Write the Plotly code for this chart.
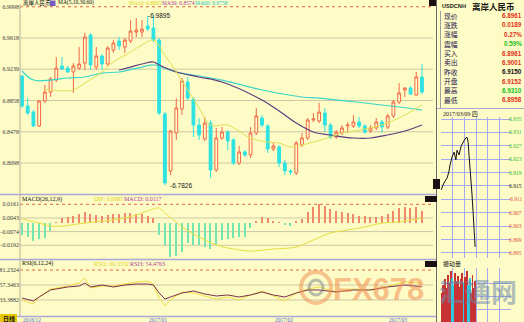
import plotly.graph_objects as go

W, H = 524, 322
BG = "#FDFBC6"
SERIF = "Liberation Serif, Noto Sans CJK SC"
SANS = "Liberation Sans, Noto Sans CJK SC"
CJK = "Noto Sans CJK SC"

# ---------------- data: daily candles (USDCNH) ----------------
day_idx = list(range(71))
opens = [6.9156, 6.8791, 6.8718, 6.8548, 6.8852, 6.8961, 6.9107, 6.9278, 6.9253, 6.9205,
         6.9253, 6.9314, 6.9655, 6.9265, 6.9399, 6.9302, 6.9472, 6.9582, 6.9509, 6.9582,
         6.9691, 6.9691, 6.9764, 6.9740, 6.9594, 6.8694, 6.8001, 6.8463, 6.8755, 6.9083,
         6.8876, 6.8560, 6.8390, 6.8584, 6.8013, 6.8402, 6.8475, 6.8378, 6.8098, 6.8232,
         6.8195, 6.8463, 6.8645, 6.8548, 6.8268, 6.8293, 6.8098, 6.8001, 6.7976, 6.8317,
         6.8402, 6.8621, 6.8609, 6.8706, 6.8560, 6.8414, 6.8463, 6.8550, 6.8548, 6.8597,
         6.8548, 6.8487, 6.8524, 6.8597, 6.8536, 6.8670, 6.8840, 6.8986, 6.9010, 6.8925,
         6.9144]
highs = [6.9168, 6.8888, 6.8742, 6.8864, 6.9047, 6.9144, 6.9387, 6.9387, 6.9278, 6.9314,
         6.9509, 6.9679, 6.9679, 6.9509, 6.9423, 6.9521, 6.9594, 6.9630, 6.9618, 6.9837,
         6.9861, 6.9837, 6.9886, 6.9895, 6.9618, 6.8718, 6.8499, 6.8888, 6.9132, 6.9144,
         6.8901, 6.8645, 6.8657, 6.8621, 6.8524, 6.8536, 6.8499, 6.8402, 6.8305, 6.8256,
         6.8536, 6.8767, 6.8682, 6.8572, 6.8341, 6.8317, 6.8135, 6.8025, 6.8366, 6.8463,
         6.8645, 6.8706, 6.8828, 6.8767, 6.8584, 6.8499, 6.8560, 6.8597, 6.8682, 6.8657,
         6.8572, 6.8560, 6.8645, 6.8621, 6.8694, 6.8864, 6.9071, 6.9022, 6.9034, 6.9205,
         6.9302]
lows = [6.8767, 6.8682, 6.8536, 6.8536, 6.8828, 6.8901, 6.9083, 6.9229, 6.9192, 6.8949,
        6.9229, 6.9229, 6.9229, 6.9229, 6.9229, 6.9278, 6.9436, 6.9472, 6.9436, 6.9557,
        6.9630, 6.9630, 6.9703, 6.9569, 6.8682, 6.7826, 6.7952, 6.8378, 6.8682, 6.8864,
        6.8414, 6.8378, 6.8366, 6.7916, 6.7989, 6.8378, 6.8256, 6.8074, 6.8074, 6.8171,
        6.8159, 6.8439, 6.8536, 6.8220, 6.8244, 6.8050, 6.7952, 6.7952, 6.7952, 6.8293,
        6.8378, 6.8597, 6.8584, 6.8475, 6.8390, 6.8390, 6.8439, 6.8463, 6.8524, 6.8524,
        6.8451, 6.8463, 6.8499, 6.8463, 6.8511, 6.8645, 6.8815, 6.8901, 6.8925, 6.8913,
        6.8937]
closes = [6.8791, 6.8706, 6.8548, 6.8852, 6.8961, 6.9120, 6.9253, 6.9241, 6.9205, 6.9278,
          6.9302, 6.9630, 6.9290, 6.9399, 6.9302, 6.9496, 6.9557, 6.9521, 6.9594, 6.9703,
          6.9715, 6.9727, 6.9727, 6.9594, 6.8706, 6.7855, 6.8487, 6.8767, 6.9095, 6.8888,
          6.8560, 6.8439, 6.8584, 6.8013, 6.8402, 6.8475, 6.8366, 6.8098, 6.8232, 6.8195,
          6.8463, 6.8670, 6.8560, 6.8268, 6.8305, 6.8098, 6.8001, 6.7989, 6.8341, 6.8402,
          6.8621, 6.8633, 6.8718, 6.8560, 6.8414, 6.8475, 6.8524, 6.8560, 6.8597, 6.8548,
          6.8475, 6.8524, 6.8597, 6.8536, 6.8670, 6.8840, 6.8949, 6.9010, 6.8937, 6.9144,
          6.8961]

# moving averages
ma10_idx = [4, 5, 9, 11, 14, 16, 19, 21, 23, 25, 27, 29, 31, 33, 36, 40, 43, 45, 47, 49, 51, 54, 56, 59, 63, 67, 70]
ma10_val = [6.8998, 6.8986, 6.8986, 6.9071, 6.9205, 6.9326, 6.9448, 6.9533, 6.9594, 6.9411, 6.9205, 6.8986,
            6.8767, 6.8560, 6.8560, 6.8402, 6.8353, 6.8341, 6.8293, 6.8317, 6.8353, 6.8414, 6.8463, 6.8499,
            6.8560, 6.8682, 6.8803]
ma30_idx = [17, 19, 21, 23, 24, 27, 31, 35, 42, 45, 48, 51, 54, 58, 61, 64, 67, 70]
ma30_val = [6.9229, 6.9265, 6.9302, 6.9326, 6.9290, 6.9205, 6.9144, 6.9083, 6.8864, 6.8730, 6.8584,
            6.8475, 6.8439, 6.8402, 6.8402, 6.8439, 6.8487, 6.8560]
ma60_idx = [0, 2, 5, 8, 11, 14, 17, 21, 23, 27, 31, 35, 42, 49, 52, 60, 66, 70]
ma60_val = [6.9217, 6.9107, 6.9107, 6.9132, 6.9144, 6.9192, 6.9205, 6.9265, 6.9290, 6.9205, 6.9156,
            6.9107, 6.8986, 6.8901, 6.8888, 6.8828, 6.8779, 6.8742]
price_ticks = [6.9998, 6.9618, 6.9239, 6.8858, 6.8478, 6.8098]

# MACD
macd_hist = [-0.0103, -0.0121, -0.0155, -0.0138, -0.0129, -0.0069, 0.0005, 0.0043, 0.0052, 0.0060,
             0.0077, 0.0095, 0.0077, 0.0069, 0.0060, 0.0069, 0.0077, 0.0077, 0.0086, 0.0086,
             0.0077, 0.0077, 0.0060, 0.0043, -0.0103, -0.0189, -0.0293, -0.0284, -0.0250, -0.0172,
             -0.0189, -0.0189, -0.0207, -0.0224, -0.0189, -0.0146, -0.0138, -0.0129, -0.0121, -0.0121,
             -0.0043, 0.0017, 0.0052, 0.0043, 0.0009, 0.0003, -0.0017, -0.0026, 0.0009, 0.0034,
             0.0095, 0.0138, 0.0164, 0.0146, 0.0121, 0.0103, 0.0095, 0.0086, 0.0077, 0.0060,
             0.0060, 0.0052, 0.0052, 0.0060, 0.0077, 0.0103, 0.0129, 0.0138, 0.0129, 0.0138,
             0.0103]
dif_idx = [0, 3, 5, 7, 11, 17, 20, 23, 24, 25, 27, 28, 31, 34, 37, 40, 44, 48, 51, 54, 57, 60, 63, 66, 70]
dif_val = [0.0034, 0.0, -0.0026, -0.0026, 0.0, 0.0034, 0.0069, 0.0121, 0.0129, 0.0086, 0.0009, -0.0034,
           -0.0121, -0.0189, -0.0224, -0.0241, -0.0224, -0.0207, -0.0146, -0.0086, -0.0060, -0.0034,
           0.0, 0.0009, 0.0043]
macd_ticks = [0.0161, 0.0043, -0.0074, -0.0192]

# RSI
rsi_idx = [0, 2, 3, 5, 8, 10, 11, 12, 14, 16, 18, 20, 22, 23, 24, 25, 26, 28, 30, 32, 34, 36, 38, 40,
           42, 44, 46, 48, 50, 52, 55, 58, 61, 64, 67, 70]
rsi3_val = [36.6, 31.8, 38.2, 49.4, 54.2, 55.7, 60.5, 54.2, 57.3, 54.2, 57.3, 58.9, 58.9, 57.3, 44.6, 35.0,
            38.2, 44.6, 47.8, 43.0, 39.8, 41.4, 38.2, 41.4, 46.2, 41.4, 38.2, 44.6, 49.4, 49.4, 46.2, 49.4,
            49.4, 54.2, 57.3, 54.5]
rsi1_val = [33.4, 27.0, 38.2, 51.0, 55.7, 60.5, 68.5, 52.6, 55.7, 55.7, 58.9, 62.1, 63.7, 58.9, 36.6, 23.8,
            33.4, 46.2, 44.6, 39.8, 35.0, 38.2, 33.4, 41.4, 47.8, 39.8, 31.8, 44.6, 51.0, 54.2, 46.2, 51.0,
            49.4, 55.7, 62.1, 60.4]
rsi_ticks = [81.2324, 57.3463, 33.3882]

# intraday (2017/03/09)
intra_h = [0.0, 1.0, 2.1, 2.7, 3.1, 3.8, 4.5, 5.1, 5.5, 6.2, 6.9, 7.5, 8.2, 8.9, 9.3, 9.6, 9.9, 10.6, 11.0, 11.3, 11.7]
intra_p = [6.9138, 6.9159, 6.9174, 6.9192, 6.9213, 6.9237, 6.9251, 6.9228, 6.9257, 6.9243, 6.9269, 6.9278,
           6.9290, 6.9296, 6.9281, 6.9243, 6.9198, 6.9129, 6.9072, 6.9034, 6.8968]
intra_ticks = [6.935, 6.931, 6.927, 6.923, 6.919, 6.915, 6.911, 6.907, 6.903, 6.899, 6.895]
vol_h = [0.3, 0.8, 1.3, 1.8, 2.3, 2.8, 3.3, 3.8, 4.3, 4.8, 5.3, 5.8, 6.3, 6.8, 7.3, 7.8, 8.3, 8.8, 9.3, 9.8,
         10.3, 10.8, 11.3, 11.8]
vol_v = [30, 38, 44, 35, 48, 40, 52, 45, 38, 50, 42, 47, 36, 44, 50, 40, 46, 52, 38, 45, 30, 48, 35, 42]
vol_up = [1, 1, 1, 1, 1, 1, 1, 0, 0, 1, 1, 1, 1, 1, 1, 0, 1, 1, 0, 0, 1, 1, 1, 1]

info_labels = ["现价", "涨跌", "涨幅", "震幅", "买入", "卖出", "昨收", "开盘", "最高", "最低"]
info_values = ["6.8961", "0.0189", "0.27%", "0.59%", "6.8961", "6.9001", "6.9150", "6.9152", "6.9310", "6.8958"]
info_colors = ["#E03020", "#E03020", "#E03020", "#20C020", "#E03020", "#E03020", "#101010", "#E03020", "#20C020", "#E03020"]


def fx(x):
    return x / W


def fy(y):
    return 1 - y / H


fig = go.Figure()

# ---- main panel ----
fig.add_trace(go.Candlestick(
    x=day_idx, open=opens, high=highs, low=lows, close=closes,
    increasing=dict(line=dict(color="#F26A4A", width=1), fillcolor=BG),
    decreasing=dict(line=dict(color="#2FE2E2", width=1), fillcolor="#2FE2E2"),
    whiskerwidth=0, xaxis="x", yaxis="y", showlegend=False, hoverinfo="skip"))
fig.add_trace(go.Scatter(x=ma60_idx, y=ma60_val, mode="lines", xaxis="x", yaxis="y",
                         line=dict(color="#3CD6C8", width=1.2, shape="spline"), showlegend=False))
fig.add_trace(go.Scatter(x=ma30_idx, y=ma30_val, mode="lines", xaxis="x", yaxis="y",
                         line=dict(color="#5E3C7E", width=1.2, shape="spline"), showlegend=False))
fig.add_trace(go.Scatter(x=ma10_idx, y=ma10_val, mode="lines", xaxis="x", yaxis="y",
                         line=dict(color="#E2E050", width=1, shape="spline"), showlegend=False))

# ---- MACD ----
fig.add_trace(go.Bar(x=day_idx, y=macd_hist, width=0.22, xaxis="x2", yaxis="y2",
                     marker=dict(color=["#F0886A" if v >= 0 else "#74E4B2" for v in macd_hist], line=dict(width=0)),
                     showlegend=False))
fig.add_trace(go.Scatter(x=dif_idx, y=dif_val, mode="lines", xaxis="x2", yaxis="y2",
                         line=dict(color="#E6E040", width=1, shape="spline"), showlegend=False))

# ---- RSI ----
fig.add_trace(go.Scatter(x=rsi_idx, y=rsi1_val, mode="lines", xaxis="x3", yaxis="y3",
                         line=dict(color="#F0E040", width=1), showlegend=False))
fig.add_trace(go.Scatter(x=rsi_idx, y=rsi3_val, mode="lines", xaxis="x3", yaxis="y3",
                         line=dict(color="#7A3048", width=1), showlegend=False))

# ---- intraday ----
fig.add_trace(go.Scatter(x=intra_h, y=intra_p, mode="lines", xaxis="x4", yaxis="y4",
                         line=dict(color="#151515", width=1), showlegend=False))
fig.add_trace(go.Bar(x=vol_h, y=vol_v, width=0.3, xaxis="x5", yaxis="y5",
                     marker=dict(color=["#C83232" if u else "#30C8E0" for u in vol_up], line=dict(width=0)),
                     showlegend=False))

xr = [-0.35, 71.93]
xdom = [fx(20), fx(433)]
ax_common = dict(showgrid=False, zeroline=False, showline=False, ticks="")
tickfont = dict(size=6, family=SERIF, color="#404040")

fig.update_layout(
    width=W, height=H, margin=dict(l=0, r=0, t=0, b=0),
    paper_bgcolor=BG, plot_bgcolor=BG, bargap=0,
    xaxis=dict(domain=xdom, range=xr, anchor="y", showticklabels=False, rangeslider=dict(visible=False), **ax_common),
    yaxis=dict(domain=[fy(194), fy(3)], range=[6.7721, 7.0044], anchor="x", tickvals=price_ticks,
               ticktext=[f"{v:.4f}" for v in price_ticks], tickfont=tickfont, **ax_common),
    xaxis2=dict(domain=xdom, range=xr, anchor="y2", matches="x", showticklabels=False, **ax_common),
    yaxis2=dict(domain=[fy(259), fy(196)], range=[-0.0310, 0.02325], anchor="x2", tickvals=macd_ticks,
                ticktext=[f"{v:.4f}" for v in macd_ticks], tickfont=tickfont, **ax_common),
    xaxis3=dict(domain=xdom, range=xr, anchor="y3", matches="x", showticklabels=False, **ax_common),
    yaxis3=dict(domain=[fy(316), fy(260)], range=[7.84, 97.27], anchor="x3", tickvals=rsi_ticks,
                ticktext=[f"{v:.4f}" for v in rsi_ticks], tickfont=tickfont, **ax_common),
    xaxis4=dict(domain=[fx(441), fx(511)], range=[0, 24], anchor="y4", tickvals=[0, 4, 8, 12, 16, 20, 24],
                showticklabels=False, showgrid=True, gridcolor="#A8A8EE", gridwidth=1, zeroline=False, ticks=""),
    yaxis4=dict(domain=[fy(258), fy(117)], range=[6.8935, 6.9356], anchor="x4", tickvals=intra_ticks,
                showticklabels=False, showgrid=True, gridcolor="#A8A8EE", gridwidth=1, zeroline=False, ticks=""),
    xaxis5=dict(domain=[fx(441), fx(511)], range=[0, 24], anchor="y5", tickvals=[0, 4, 8, 12, 16, 20, 24],
                showticklabels=False, showgrid=True, gridcolor="#A8A8EE", zeroline=False, ticks=""),
    yaxis5=dict(domain=[0, fy(268)], range=[0, 55], anchor="x5", tickvals=[13, 26, 39],
                showticklabels=False, showgrid=True, gridcolor="#A8A8EE", zeroline=False, ticks=""),
)

shapes = []
GRID = "#CFC7A6"
DOT = "#E0664A"
for i, v in enumerate(price_ticks):
    shapes.append(dict(type="line", xref="x domain", yref="y", x0=0, x1=1, y0=v, y1=v, layer="below",
                       line=dict(color=DOT if i == 0 else GRID, width=1, dash="dot" if i == 0 else "solid")))
for i, v in enumerate(macd_ticks):
    shapes.append(dict(type="line", xref="x2 domain", yref="y2", x0=0, x1=1, y0=v, y1=v, layer="below",
                       line=dict(color=DOT if i == 0 else GRID, width=1, dash="dot" if i == 0 else "solid")))
for i, v in enumerate(rsi_ticks):
    shapes.append(dict(type="line", xref="x3 domain", yref="y3", x0=0, x1=1, y0=v, y1=v, layer="below",
                       line=dict(color=DOT if i == 0 else GRID, width=1, dash="dot" if i == 0 else "solid")))
# panel borders
for yb in [194.5, 259.5, 316.5]:
    shapes.append(dict(type="line", xref="paper", yref="paper", x0=0, x1=fx(436), y0=fy(yb), y1=fy(yb),
                       line=dict(color="#ACA8D6", width=1.5)))
shapes.append(dict(type="line", xref="paper", yref="paper", x0=fx(20), x1=fx(20), y0=fy(316), y1=fy(4),
                   line=dict(color="#B8B096", width=1)))
shapes.append(dict(type="line", xref="paper", yref="paper", x0=fx(436.5), x1=fx(436.5), y0=0, y1=1,
                   line=dict(color="#6A6A6A", width=1)))
shapes.append(dict(type="line", xref="paper", yref="paper", x0=fx(440.5), x1=fx(440.5), y0=fy(108), y1=fy(11),
                   line=dict(color="#A0A0A0", width=1)))
shapes.append(dict(type="line", xref="paper", yref="paper", x0=fx(437), x1=1, y0=fy(108.5), y1=fy(108.5),
                   line=dict(color="#ACA8D6", width=1)))
# small UI boxes
for (x0, y0, x1, y1) in [(429, 0, 436, 6), (425, 196, 437, 202), (425, 261, 437, 267), (433, 179, 440, 189)]:
    shapes.append(dict(type="rect", xref="paper", yref="paper", x0=fx(x0), x1=fx(x1), y0=fy(y1), y1=fy(y0),
                       fillcolor="#1A1010", line=dict(width=0)))
shapes.append(dict(type="rect", xref="paper", yref="paper", x0=fx(50), x1=fx(55.5), y0=fy(6), y1=fy(0.5),
                   fillcolor="#7A5CC0", line=dict(width=0)))
shapes.append(dict(type="rect", xref="paper", yref="paper", x0=0, x1=fx(17), y0=fy(322), y1=fy(314),
                   fillcolor="#E6C800", line=dict(width=0)))
# watermark logo ring
shapes.append(dict(type="circle", xref="paper", yref="paper", x0=fx(301), x1=fx(331), y0=fy(303), y1=fy(272),
                   line=dict(color="rgba(240,150,90,0.55)", width=4)))
shapes.append(dict(type="circle", xref="paper", yref="paper", x0=fx(309), x1=fx(323), y0=fy(295), y1=fy(280),
                   line=dict(color="rgba(120,130,140,0.5)", width=3)))
fig.update_layout(shapes=shapes)

ann = []


def txt(x, y, s, size=6, color="#101010", family=SERIF, anchor="left", **kw):
    ann.append(dict(x=fx(x), y=fy(y), xref="paper", yref="paper", text=s, showarrow=False,
                    xanchor=anchor, yanchor="middle", font=dict(size=size, color=color, family=family), **kw))


txt(21, 3, "离岸人民币", 5.5, family=CJK)
txt(56, 3, "MA(5,10,30,60)", 5.5)
txt(127, 3, "MA10: 6.8805", 5.5, "#E2D420")
txt(160, 3, "MA30: 6.8574", 5.5, "#B03CA0")
txt(193, 3, "MA60: 6.8758", 5.5, "#22C8C8")
txt(20, 199, "MACD(26,12,9)", 6)
txt(92, 199, "DIF: 0.0085", 6, "#E2D420")
txt(122, 199, "MACD: 0.0117", 6, "#B03CA0")
txt(20, 263.5, "RSI(6,12,24)", 6)
txt(92, 263.5, "RSI1: 60.3532", 6, "#E2D420")
txt(128, 263.5, "RSI3: 54.4763", 6, "#B03CA0")
for x, s in [(21, "2016/12"), (147, "2017/01"), (273, "2017/02"), (387, "2017/03")]:
    txt(x, 319.5, s, 5.5, "#4A6AC8")
txt(1, 318, "<b>日线</b>", 6, "#101010", CJK)

# high / low marks
ann.append(dict(x=23, y=6.9895, xref="x", yref="y", text="-6.9895", showarrow=False, xanchor="left",
                yanchor="middle", xshift=-7, font=dict(size=6.5, color="#202020", family=SANS)))
ann.append(dict(x=25, y=6.7826, xref="x", yref="y", text="-6.7826", showarrow=False, xanchor="left",
                yanchor="middle", xshift=3, font=dict(size=6.5, color="#202020", family=SANS)))

# right info panel
txt(440, 6, "<b>USDCNH</b>", 5.6, "#202020", SANS)
txt(470, 6, "<b>离岸人民币</b>", 8.5, "#101010", CJK)
row_y = [15.7, 25.0, 34.3, 43.6, 53.0, 62.4, 71.8, 81.1, 90.4, 99.8]
for yy, lab, val, col in zip(row_y, info_labels, info_values, info_colors):
    txt(442, yy, lab, 6.8, "#2A2050", CJK)
    txt(523.5, yy, "<b>" + val + "</b>", 6.3, col, SANS, anchor="right")
txt(441, 113.5, "2017/03/09 四", 6, "#202020", SERIF)
for v in intra_ticks:
    col = "#30C030" if v > 6.915 else ("#101010" if abs(v - 6.915) < 1e-6 else "#E05040")
    ann.append(dict(x=fx(523.5), y=v, xref="paper", yref="y4", text=f"{v:.3f}", showarrow=False, xanchor="right",
                    yanchor="middle", font=dict(size=5.5, color=col, family=SERIF)))
txt(441, 263, "振动量", 6, "#202020", CJK)

# watermark
txt(378, 289, "<b>FX678</b>", 31, "rgba(242,150,90,0.6)", SANS, anchor="center")
txt(478, 290, "<b>汇通网</b>", 26, "rgba(110,140,170,0.55)", CJK, anchor="center")

fig.update_layout(annotations=ann)
fig.write_html("out.html")
